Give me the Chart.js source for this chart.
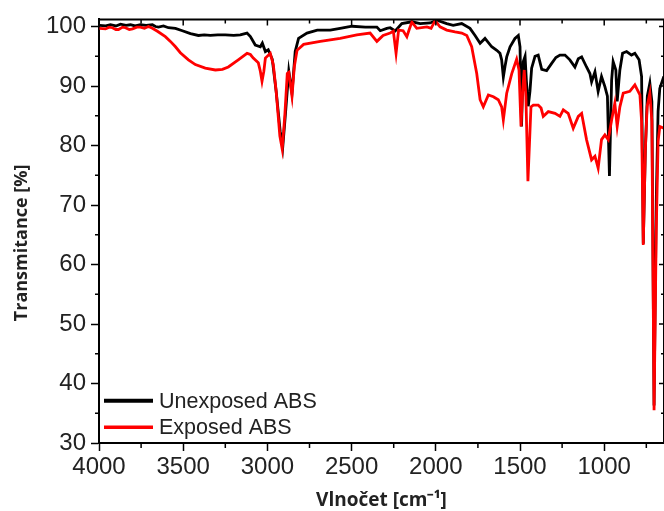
<!DOCTYPE html>
<html><head><meta charset="utf-8">
<script src="https://cdn.jsdelivr.net/npm/chart.js@4.4.1/dist/chart.umd.min.js"></script>
<style>html,body{margin:0;padding:0;background:#fff}#wrap{width:664px;height:511px;position:relative}</style>
</head><body><div id="wrap"><canvas id="c" width="664" height="511"></canvas></div>
<script>
const seriesNames = ['Unexposed ABS', 'Exposed ABS'];
const unexposedWn = [3997,3960,3932,3900,3872,3840,3813,3785,3754,3720,3683,3665,3647,3617,3588,3546,3505,3457,3410,3375,3339,3295,3250,3200,3161,3121,3101,3072,3042,3030,3012,2995,2971,2948,2924,2909,2894,2873,2854,2835,2815,2765,2704,2627,2568,2497,2419,2350,2330,2291,2271,2241,2202,2142,2093,2034,1994,1935,1897,1846,1797,1767,1737,1708,1668,1638,1619,1609,1599,1589,1579,1559,1530,1510,1500,1491,1481,1470,1462,1451,1441,1431,1411,1392,1371,1342,1312,1287,1263,1233,1204,1174,1154,1134,1105,1085,1075,1055,1036,1016,996,981,969,956,947,931,923,913,907,891,867,838,818,793,778,768,756,744,729,717,704,691,680,670,646];
const unexposedT = [100.2,100.1,100.3,100.1,100.4,100.2,100.3,100.1,100.3,100.2,100.3,100.0,99.9,100.1,99.8,99.7,99.3,98.8,98.5,98.6,98.5,98.6,98.6,98.5,98.6,98.9,98.3,96.9,96.6,97.2,95.8,96.1,94.5,89.1,82.4,79.7,84.9,92.5,88.8,95.8,98.0,98.9,99.4,99.4,99.7,100.05,99.9,99.9,99.3,99.7,99.8,99.25,100.5,100.8,100.5,100.6,101.05,100.5,100.2,100.5,99.7,98.5,97.2,98.0,96.6,96.0,95.5,94.4,91.5,93.3,94.9,96.6,98.0,98.5,96.6,83.2,94.1,95.0,90.8,86.6,89.1,93.0,95.0,95.2,92.8,92.6,93.8,94.8,95.2,95.2,94.4,93.2,94.6,94.9,93.2,92.1,90.7,92.4,89.1,91.6,89.9,88.3,74.9,91.0,94.1,92.7,87.4,90.8,92.7,95.5,95.8,95.2,95.5,94.4,91.6,63.5,79.1,88.3,90.5,87.4,36.3,70.7,85.8,89.6,91.6];
const exposedWn = [3997,3961,3940,3920,3900,3884,3860,3843,3820,3801,3775,3754,3730,3706,3683,3653,3606,3576,3546,3517,3469,3428,3369,3309,3267,3232,3173,3121,3101,3084,3054,3042,3032,3021,3012,2983,2965,2948,2926,2912,2897,2882,2873,2854,2840,2824,2785,2686,2568,2469,2390,2350,2339,2313,2271,2252,2236,2221,2194,2172,2158,2142,2113,2053,2028,2004,1975,1935,1886,1846,1816,1787,1757,1737,1718,1688,1658,1629,1609,1599,1579,1549,1520,1506,1494,1484,1475,1465,1453,1435,1421,1392,1375,1362,1332,1292,1263,1243,1214,1184,1154,1134,1105,1075,1055,1036,1016,996,976,956,937,923,907,887,848,818,788,778,768,756,745,729,717,704,691,680,670,646];
const exposedT = [99.7,99.6,99.9,99.8,99.5,99.5,99.9,99.8,99.5,99.6,99.9,99.9,99.7,100.0,99.7,99.2,98.3,97.5,96.6,95.6,94.4,93.6,93.0,92.7,92.8,93.2,94.4,95.5,95.3,94.7,93.9,92.5,90.8,92.5,94.7,95.5,93.6,89.1,81.6,79.4,84.9,92.1,92.3,88.3,93.3,96.0,97.0,97.5,98.0,98.6,98.9,97.5,97.8,98.5,98.9,99.2,95.5,99.4,99.3,98.3,99.5,100.75,99.7,99.95,99.7,101.0,99.95,99.4,99.1,98.9,98.5,96.6,92.1,87.7,86.5,88.5,88.2,87.7,86.5,84.3,88.8,92.1,94.5,92.7,83.2,89.3,92.7,88.2,74.0,86.5,86.8,86.8,86.3,84.9,85.7,85.4,84.9,86.0,85.4,82.9,84.9,85.4,81.0,77.6,78.2,76.2,81.0,81.8,81.0,84.3,87.1,83.2,86.5,88.8,89.1,90.2,88.5,84.1,63.3,79.1,86.6,88.8,84.1,35.5,65.7,80.7,83.2,82.9];
const xTickValues = [4000,3500,3000,2500,2000,1500,1000];
const xMinorTickValues = [3750,3250,2750,2250,1750,1250,750];
const yTickValues = [30,40,50,60,70,80,90,100];
const yMinorTickValues = [35,45,55,65,75,85,95];
const xTitle = 'Vlnočet [cm⁻¹]';
const yTitle = 'Transmitance [%]\u00A0\u00A0\u00A0\u00A0\u00A0';

function toPoints(xs, ys) { return xs.map((x, i) => ({x: x, y: ys[i]})); }

const framePlugin = {
  id: 'frame',
  afterDraw(chart) {
    const ctx = chart.ctx;
    const a = chart.chartArea;
    const xs = chart.scales.x, ys = chart.scales.y;
    ctx.save();
    ctx.strokeStyle = '#000';
    ctx.lineWidth = 2;
    ctx.beginPath();
    ctx.moveTo(a.left, a.top); ctx.lineTo(a.right, a.top);
    ctx.moveTo(a.right, a.top); ctx.lineTo(a.right, a.bottom);
    ctx.stroke();
    ctx.lineWidth = 1.5;
    ctx.beginPath();
    xMinorTickValues.forEach(v => {
      const p = xs.getPixelForValue(v);
      ctx.moveTo(p, a.bottom); ctx.lineTo(p, a.bottom + 5);
      ctx.moveTo(p, a.top); ctx.lineTo(p, a.top + 4);
    });
    xTickValues.forEach(v => {
      const p = xs.getPixelForValue(v);
      ctx.moveTo(p, a.top); ctx.lineTo(p, a.top + 6);
    });
    yMinorTickValues.forEach(v => {
      const p = ys.getPixelForValue(v);
      ctx.moveTo(a.left, p); ctx.lineTo(a.left - 4, p);
      ctx.moveTo(a.right, p); ctx.lineTo(a.right - 3, p);
    });
    yTickValues.forEach(v => {
      const p = ys.getPixelForValue(v);
      ctx.moveTo(a.right, p); ctx.lineTo(a.right - 5, p);
    });
    ctx.stroke();
    // legend
    const items = chart.data.datasets;
    const ly = [400.7, 427.3];
    ctx.font = '21.5px "Liberation Sans", Arial, sans-serif';
    ctx.textBaseline = 'middle';
    ctx.textAlign = 'left';
    items.forEach((ds, i) => {
      ctx.strokeStyle = ds.borderColor;
      ctx.lineWidth = i === 0 ? 4 : 3.5;
      ctx.beginPath();
      ctx.moveTo(a.left + 5, ly[i]); ctx.lineTo(a.left + 54, ly[i]);
      ctx.stroke();
      ctx.fillStyle = '#222';
      ctx.fillText(ds.label, a.left + 60, ly[i] + 1);
    });
    ctx.restore();
  }
};

new Chart(document.getElementById('c'), {
  type: 'line',
  data: {
    datasets: [
      {label: seriesNames[0], data: toPoints(unexposedWn, unexposedT), borderColor: '#000000', borderWidth: 2.8, order: 2},
      {label: seriesNames[1], data: toPoints(exposedWn, exposedT), borderColor: '#ff0000', borderWidth: 2.8, order: 1}
    ]
  },
  options: {
    responsive: false,
    animation: false,
    parsing: false,
    layout: {padding: {top: 18, right: 0, left: 0, bottom: 0}},
    elements: {point: {radius: 0}, line: {tension: 0, fill: false}},
    plugins: {legend: {display: false}, tooltip: {enabled: false}},
    scales: {
      x: {
        type: 'linear', reverse: true, min: 645, max: 4000,
        afterBuildTicks: s => { s.ticks = xTickValues.map(v => ({value: v})); },
        afterFit: s => { s.height = 68; },
        grid: {drawOnChartArea: false, drawTicks: true, tickLength: 8, tickWidth: 1.5, tickColor: '#000'},
        border: {display: true, color: '#000', width: 2},
        ticks: {font: {family: '"Liberation Sans", Arial, sans-serif', size: 24}, color: '#222', padding: 2, maxRotation: 0, autoSkip: false, callback: v => String(v)},
        title: {display: true, text: xTitle, font: {family: '"Open Sans", sans-serif', size: 19, weight: 'bold'}, color: '#222', padding: {top: 0, bottom: -1}}
      },
      y: {
        min: 30, max: 101.2,
        afterBuildTicks: s => { s.ticks = yTickValues.map(v => ({value: v})); },
        afterFit: s => { s.width = 99; },
        grid: {drawOnChartArea: false, drawTicks: true, tickLength: 8, tickWidth: 1.5, tickColor: '#000'},
        border: {display: true, color: '#000', width: 2},
        ticks: {font: {family: '"Liberation Sans", Arial, sans-serif', size: 24}, color: '#222', padding: 5, autoSkip: false, callback: v => String(v)},
        title: {display: true, text: yTitle, font: {family: '"Open Sans", sans-serif', size: 18, weight: 'bold'}, color: '#222', padding: {top: 11, bottom: 0}}
      }
    }
  },
  plugins: [framePlugin]
});
</script>
</body></html>
